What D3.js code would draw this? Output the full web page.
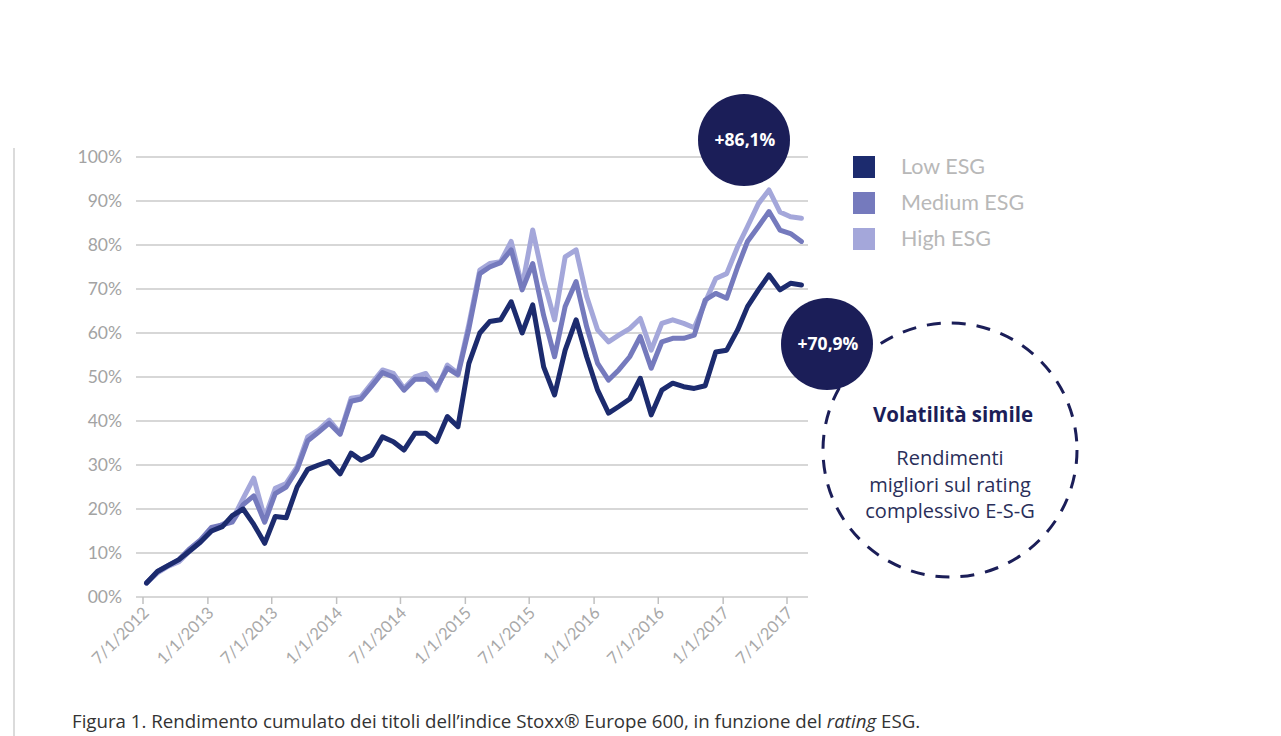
<!DOCTYPE html>
<html><head><meta charset="utf-8">
<script src="https://cdn.jsdelivr.net/npm/d3@7"></script>
<style>
body{margin:0;background:#fff;}
svg{display:block;}
</style></head>
<body>
<svg id="c" width="1281" height="736"></svg>
<script>
// ---- data ----
const seriesNames = ["Low ESG", "Medium ESG", "High ESG"];
const lowESG = [3.2,5.8,7.2,8.5,10.5,12.5,15,16,18.5,20,16.5,12.2,18.3,18,25,29,30,30.8,28,32.7,31.1,32.3,36.4,35.3,33.4,37.2,37.2,35.3,41,38.7,53.1,60,62.6,63,67.1,60,66.4,52.3,45.9,56.1,63,54.6,47,41.8,43.3,45,49.7,41.4,47,48.6,47.8,47.4,48,55.7,56.1,60.7,66,69.8,73.2,69.8,71.3,70.9];
const mediumESG = [3.2,5.8,7.2,8.5,11,13,15.8,16.4,17,21,23,17,23.5,25,29,35.5,37.5,39.5,37,44.5,45,48,51,50,47,49.5,49.5,47.5,52,50.5,61,73.5,75,76,78.9,69.8,75.8,64,54.6,66,71.7,61.4,53.1,49.3,51.6,54.6,59.2,52,58,58.8,58.8,59.5,67.5,69,67.9,75,80.8,84.2,87.6,83.4,82.6,80.8];
const highESG = [3.2,5.5,7,8,10.5,12.5,15,16.5,17.5,22.4,27,17.9,24.7,25.8,29.6,36.4,38,40.2,37.2,45.2,45.5,48.6,51.6,50.8,47.4,50,50.8,47,52.7,50.8,62,74.3,75.8,76.2,80.8,70.5,83.4,72,63,77.3,78.9,68.3,60.7,58,59.5,61,63.3,56.1,62.2,63,62.2,61.2,67,72.4,73.5,79.6,84.2,89.4,92.5,87.5,86.4,86.1];
const yTicks = [0,10,20,30,40,50,60,70,80,90,100];
const yTickLabels = ["00%","10%","20%","30%","40%","50%","60%","70%","80%","90%","100%"];
const xTickLabels = ["7/1/2012","1/1/2013","7/1/2013","1/1/2014","7/1/2014","1/1/2015","7/1/2015","1/1/2016","7/1/2016","1/1/2017","7/1/2017"];
const bubbleLabels = ["+86,1%", "+70,9%"];
const noteTitle = "Volatilità simile";
const noteLines = ["Rendimenti", "migliori sul rating", "complessivo E-S-G"];

// ---- drawing ----
const colors = ["#1c2b6e", "#757abd", "#a4a7da"];
const navy = "#1b1e58";
const svg = d3.select("#c");
const parse = d3.timeParse("%m/%d/%Y");
const dates = lowESG.map((_, i) => new Date(2012, 6 + i, 11));

const x = d3.scaleTime().domain([parse("07/01/2012"), parse("07/01/2017")]).range([143, 787]);
const y = d3.scaleLinear().domain([0, 100]).range([597, 157]);

// frame line at left
svg.append("line").attr("x1", 14).attr("x2", 14).attr("y1", 148).attr("y2", 736)
  .attr("stroke", "#cfcfcf").attr("stroke-width", 1.5);

// gridlines
svg.append("g").selectAll("line").data(yTicks).join("line")
  .attr("x1", 136).attr("x2", 808)
  .attr("y1", d => y(d)).attr("y2", d => y(d))
  .attr("stroke", "#cacaca").attr("stroke-width", 1.5);

// y labels
svg.append("g").selectAll("text").data(yTicks).join("text")
  .attr("x", 122).attr("y", d => y(d) + 6)
  .attr("text-anchor", "end")
  .attr("font-family", "Lato, 'Open Sans', sans-serif")
  .attr("font-size", 17.5).attr("fill", "#a3a3a3")
  .text((d, i) => yTickLabels[i]);

// x axis ticks and labels
const xTickDates = xTickLabels.map(s => parse(s));
const xg = svg.append("g");
xg.selectAll("line").data(xTickDates).join("line")
  .attr("x1", d => x(d)).attr("x2", d => x(d))
  .attr("y1", 597).attr("y2", 604)
  .attr("stroke", "#c0c0c0").attr("stroke-width", 1.5);
xg.selectAll("text").data(xTickDates).join("text")
  .attr("transform", d => `translate(${x(d) + 7},${614}) rotate(-45)`)
  .attr("text-anchor", "end")
  .attr("font-family", "Lato, 'Open Sans', sans-serif")
  .attr("font-size", 16.5).attr("fill", "#a8a8a8")
  .text((d, i) => xTickLabels[i]);

// lines (High first, then Medium, then Low on top)
const allSeries = [lowESG, mediumESG, highESG];
const line = d3.line().x((d, i) => x(dates[i])).y(d => y(d)).curve(d3.curveLinear);
[2, 1, 0].forEach(k => {
  svg.append("path").datum(allSeries[k])
    .attr("d", line)
    .attr("fill", "none")
    .attr("stroke", colors[k])
    .attr("stroke-width", 5)
    .attr("stroke-linejoin", "round")
    .attr("stroke-linecap", "round");
});

// legend
const lg = svg.append("g");
seriesNames.forEach((n, i) => {
  const cy = [167, 203, 239][i];
  lg.append("rect").attr("x", 853).attr("y", cy - 11).attr("width", 22).attr("height", 22).attr("fill", colors[i]);
  lg.append("text").attr("x", 901).attr("y", cy + 7)
    .attr("font-family", "Lato, 'Open Sans', sans-serif")
    .attr("font-size", 21.5).attr("fill", "#b8b8b8")
    .text(n);
});

// bubbles
const bubbles = [{cx: 744, cy: 140, t: bubbleLabels[0]}, {cx: 827, cy: 344, t: bubbleLabels[1]}];

// dashed note circle
svg.append("circle").attr("cx", 950).attr("cy", 450).attr("r", 127)
  .attr("fill", "none").attr("stroke", navy).attr("stroke-width", 3)
  .attr("stroke-dasharray", "14 11");

bubbles.forEach(b => {
  svg.append("circle").attr("cx", b.cx).attr("cy", b.cy).attr("r", 46).attr("fill", navy);
  svg.append("text").attr("x", b.cx + 1).attr("y", b.cy + 6)
    .attr("text-anchor", "middle")
    .attr("font-family", "'Open Sans', sans-serif").attr("font-weight", "bold")
    .attr("font-size", 17.5).attr("fill", "#fff")
    .text(b.t);
});

svg.append("text").attr("x", 953).attr("y", 422).attr("text-anchor", "middle")
  .attr("font-family", "'Open Sans', sans-serif").attr("font-weight", "bold")
  .attr("font-size", 20.5).attr("fill", navy).text(noteTitle);
noteLines.forEach((t, i) => {
  svg.append("text").attr("x", 950).attr("y", 465 + i * 26.5).attr("text-anchor", "middle")
    .attr("font-family", "'Open Sans', sans-serif")
    .attr("font-size", 20).attr("fill", "#2a2f5a").text(t);
});

// caption
const cap = svg.append("text").attr("x", 72).attr("y", 728)
  .attr("font-family", "'Open Sans', sans-serif").attr("font-size", 18.7).attr("fill", "#333");
cap.append("tspan").text("Figura 1. Rendimento cumulato dei titoli dell\u2019indice Stoxx\u00ae Europe 600, in funzione del ");
cap.append("tspan").attr("font-style", "italic").text("rating");
cap.append("tspan").text(" ESG.");
</script>
</body></html>
